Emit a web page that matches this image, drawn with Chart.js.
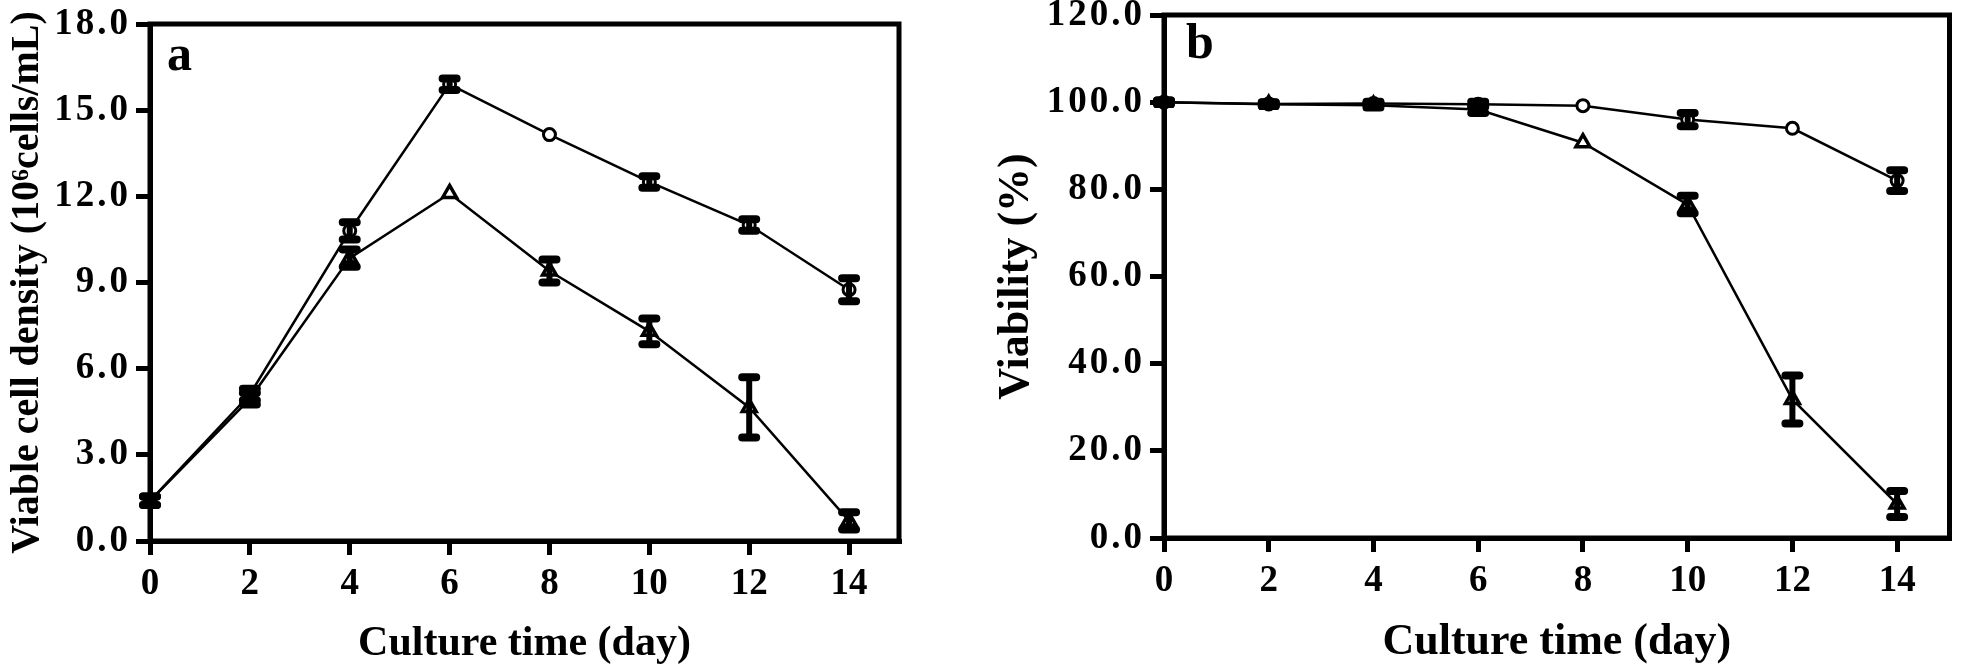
<!DOCTYPE html>
<html>
<head>
<meta charset="utf-8">
<script src="https://cdn.jsdelivr.net/npm/chart.js@4.4.1/dist/chart.umd.min.js"></script>
<style>
    html, body { margin: 0; padding: 0; background: #fff; overflow: hidden; }
    .panel { position: absolute; top: 0; height: 665px; }
    #panelA { left: 0; width: 980px; }
    #panelB { left: 980px; width: 981px; }
</style>
</head>
<body>
<div class="panel" id="panelA"><canvas id="chartA"></canvas></div>
<div class="panel" id="panelB"><canvas id="chartB"></canvas></div>
<script>
// Culture time (day)
const days = [0, 2, 4, 6, 8, 10, 12, 14];
const dayTicks = [0, 2, 4, 6, 8, 10, 12, 14];

// (a) Viable cell density (10^6 cells/mL)
const densityCircle = [1.4, 5.1, 10.8, 15.9, 14.15, 12.5, 11.0, 8.75];
const densityCircleErr = [0.15, 0.2, 0.3, 0.2, 0, 0.2, 0.2, 0.4];
const densityTriangle = [1.4, 4.95, 9.85, 12.1, 9.4, 7.3, 4.65, 0.7];
const densityTriangleErr = [0.15, 0.2, 0.3, 0, 0.4, 0.45, 1.05, 0.3];
const densityTicks = [0, 3, 6, 9, 12, 15, 18];

// (b) Viability (%)
const viabilityCircle = [100, 99.6, 99.7, 99.5, 99.2, 96.0, 94.0, 82.0];
const viabilityCircleErr = [0.4, 0.4, 0.4, 0.6, 0, 1.5, 0, 2.4];
const viabilityTriangle = [100, 99.5, 99.3, 98.3, 90.7, 76.5, 31.8, 7.8];
const viabilityTriangleErr = [0.4, 0.4, 0.5, 0.8, 0, 2.0, 5.5, 3.0];
const viabilityTicks = [0, 20, 40, 60, 80, 100, 120];

const FONT = "'Liberation Serif', 'Times New Roman', serif";

// Error bars with heavy rounded caps, drawn over the markers
const errorBars = {
    id: 'errorBars',
    afterDatasetsDraw(chart) {
        const { ctx, scales: { x, y } } = chart;
        ctx.save();
        ctx.strokeStyle = '#000';
        chart.data.datasets.forEach(ds => {
            if (!ds.errors) return;
            ds.data.forEach((pt, i) => {
                const e = ds.errors[i];
                if (!e) return;
                const px = x.getPixelForValue(pt.x);
                const top = y.getPixelForValue(pt.y + e);
                const bot = y.getPixelForValue(pt.y - e);
                ctx.lineWidth = 6;
                ctx.lineCap = 'butt';
                ctx.beginPath();
                ctx.moveTo(px, top);
                ctx.lineTo(px, bot);
                ctx.stroke();
                ctx.lineWidth = 8;
                ctx.lineCap = 'round';
                ctx.beginPath();
                ctx.moveTo(px - 7, top); ctx.lineTo(px + 7, top);
                ctx.moveTo(px - 7, bot); ctx.lineTo(px + 7, bot);
                ctx.stroke();
            });
        });
        ctx.restore();
    }
};

// Closed frame and the panel letter
const frame = {
    id: 'frame',
    afterDraw(chart, args, opts) {
        const { ctx, chartArea: a } = chart;
        ctx.save();
        ctx.strokeStyle = '#000';
        ctx.lineWidth = 5;
        ctx.strokeRect(a.left, a.top, a.right - a.left, a.bottom - a.top);
        ctx.fillStyle = '#000';
        ctx.font = 'bold ' + opts.size + 'px ' + FONT;
        ctx.textAlign = 'left';
        ctx.textBaseline = 'alphabetic';
        ctx.fillText(opts.letter, a.left + opts.dx, a.top + opts.dy);
        ctx.restore();
    }
};

// the y tick numbers in the figure are set a little wider
function spacedLabels(s) {
    if (s._spaced) return;
    const draw = s.drawLabels.bind(s);
    s.drawLabels = area => {
        s.ctx.save();
        s.ctx.letterSpacing = '3px';
        draw(area);
        s.ctx.restore();
    };
    s._spaced = true;
}

const pairs = (xs, ys) => xs.map((v, i) => ({ x: v, y: ys[i] }));

function series(values, errors, style, radius, width) {
    return {
        data: pairs(days, values),
        errors: errors,
        borderColor: '#000',
        borderWidth: 2.5,
        pointStyle: style,
        pointRadius: radius,
        pointBorderWidth: width,
        pointBackgroundColor: '#fff',
        pointBorderColor: '#000',
        tension: 0,
        clip: false
    };
}

function makeChart(id, cfg) {
    return new Chart(document.getElementById(id), {
        type: 'line',
        data: {
            datasets: [
                series(cfg.triangle, cfg.triangleErr, 'triangle', 8, 3.5),
                series(cfg.circle, cfg.circleErr, 'circle', 6, 3)
            ]
        },
        options: {
            responsive: true,
            maintainAspectRatio: false,
            animation: false,
            events: [],
            layout: { padding: cfg.padding },
            plugins: {
                legend: { display: false },
                tooltip: { enabled: false },
                frame: cfg.label
            },
            scales: {
                x: {
                    type: 'linear',
                    min: 0,
                    max: 15,
                    afterBuildTicks: s => { s.ticks = dayTicks.map(v => ({ value: v })); },
                    afterFit: s => { s.height = cfg.xHeight; s.paddingLeft = 0; s.paddingRight = 0; },
                    grid: { drawOnChartArea: false, tickLength: 14, tickWidth: 5, tickColor: '#000', color: '#000', lineWidth: 5 },
                    border: { display: true, color: '#000', width: 5 },
                    ticks: { color: '#000', padding: 7, maxRotation: 0, autoSkip: false, font: { family: FONT, size: 37, weight: 'bold' } },
                    title: {
                        display: true,
                        text: 'Culture time (day)',
                        color: '#000',
                        padding: { top: 0, bottom: -4 },
                        font: { family: FONT, size: cfg.xTitleSize, weight: 'bold' }
                    }
                },
                y: {
                    min: 0,
                    max: cfg.yMax,
                    afterBuildTicks: s => { s.ticks = cfg.yTicks.map(v => ({ value: v })); },
                    afterFit: s => { s.width = cfg.yWidth; s.paddingTop = 0; s.paddingBottom = 0; spacedLabels(s); },
                    grid: { drawOnChartArea: false, tickLength: 14, tickWidth: 5, tickColor: '#000', color: '#000', lineWidth: 5 },
                    border: { display: true, color: '#000', width: 5 },
                    ticks: {
                        color: '#000',
                        padding: 5,
                        autoSkip: false,
                        font: { family: FONT, size: 37, weight: 'bold' },
                        callback: v => v.toFixed(1)
                    },
                    title: {
                        display: true,
                        text: cfg.yTitle,
                        color: '#000',
                        padding: { top: cfg.yTitlePad, bottom: 0 },
                        font: { family: FONT, size: cfg.yTitleSize, weight: 'bold' }
                    }
                }
            }
        },
        plugins: [errorBars, frame]
    });
}

makeChart('chartA', {
    circle: densityCircle, circleErr: densityCircleErr,
    triangle: densityTriangle, triangleErr: densityTriangleErr,
    yMax: 18, yTicks: densityTicks,
    yTitle: 'Viable cell density (10\u2076cells/mL)',
    yTitleSize: 40, yTitlePad: 4, xTitleSize: 42,
    yWidth: 150, xHeight: 124,
    padding: { left: 0, right: 81, top: 24, bottom: 0 },
    label: { letter: 'a', size: 50, dx: 17, dy: 46 }
});

makeChart('chartB', {
    circle: viabilityCircle, circleErr: viabilityCircleErr,
    triangle: viabilityTriangle, triangleErr: viabilityTriangleErr,
    yMax: 120, yTicks: viabilityTicks,
    yTitle: 'Viability (%)',
    yTitleSize: 44, yTitlePad: 10, xTitleSize: 44,
    yWidth: 184, xHeight: 127,
    padding: { left: 0, right: 8, top: 15, bottom: 0 },
    label: { letter: 'b', size: 50, dx: 22, dy: 43 }
});
</script>
</body>
</html>
